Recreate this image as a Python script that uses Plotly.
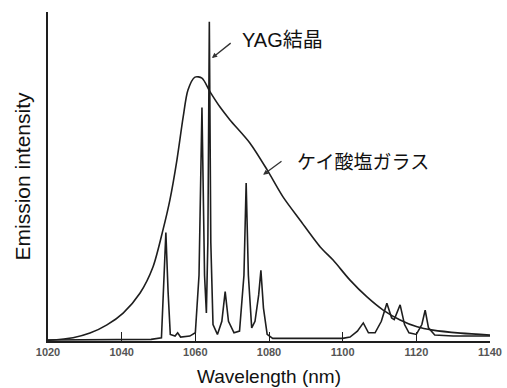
import plotly.graph_objects as go

# Broad emission band of the silicate glass (wavelength nm, relative intensity)
glass_wl = [1020, 1026.8, 1031.4, 1036.0, 1040.4, 1045.0, 1048.5, 1051.2, 1053.1,
            1055.0, 1056.7, 1058.0, 1059.9, 1061.8, 1064.0, 1066.7, 1069.4, 1074.8,
            1079.5, 1083.8, 1088.4, 1093.9, 1097.4, 1102.0, 1106.6, 1111.0, 1115.6,
            1120.2, 1124.5, 1132.0, 1140]
glass_int = [0.2, 1.0, 2.4, 4.9, 8.5, 14.6, 22.5, 33.7, 42.9,
             55.0, 68.1, 76.3, 80.2, 79.9, 75.7, 71.1, 67.2, 60.2,
             52.0, 43.8, 36.8, 28.6, 24.6, 18.5, 13.4, 9.4, 6.4,
             4.3, 3.3, 2.4, 1.8]

# Line spectrum of the YAG crystal
yag_wl = [1020, 1040, 1048, 1050.8, 1051.4, 1052.0, 1052.6, 1053.2, 1054.5, 1055.2,
          1056.0, 1058.5, 1060.0, 1061.0, 1061.8, 1062.5, 1063.0, 1063.4, 1063.8,
          1064.2, 1064.8, 1066.0, 1067.2, 1068.1, 1069.0, 1070.5, 1072.0, 1073.2,
          1073.8, 1074.4, 1075.3, 1076.2, 1077.2, 1077.8, 1078.5, 1079.5, 1081.0,
          1100.0, 1102.0, 1104.0, 1105.6, 1107.0, 1108.8, 1110.5, 1112.0, 1113.3,
          1114.0, 1115.6, 1116.8, 1118.0, 1120.0, 1121.5, 1122.4, 1123.3, 1125.0,
          1130.0, 1140]
yag_int = [0.3, 0.3, 0.5, 1.0, 15, 33, 15, 2.0, 1.5, 2.5,
           1.2, 1.5, 2.5, 20, 71, 20, 8.5, 30, 97,
           30, 5, 2.0, 6, 15, 6, 2.5, 3.0, 20,
           48, 20, 4, 6, 14, 21.5, 10, 2.0, 0.8,
           0.8, 1.2, 3.0, 5.5, 2.5, 2.5, 6.0, 11.5, 7.0,
           6.5, 11, 5.0, 2.5, 2.0, 5.0, 9.4, 4.0, 1.8,
           1.5, 1.5]

tick_vals = [1020, 1040, 1060, 1080, 1100, 1120, 1140]
tick_text = ["1020", "1040", "1060", "1080", "1100", "1120", "1140"]

ink = "#1e1e1e"
latin = "Liberation Sans, Arial, sans-serif"
jp = "Liberation Sans, Noto Sans CJK JP, sans-serif"

fig = go.Figure()
fig.add_trace(go.Scatter(x=glass_wl, y=glass_int, mode="lines",
                         line=dict(color=ink, width=1.6, shape="spline", smoothing=0.8),
                         hoverinfo="skip"))
fig.add_trace(go.Scatter(x=yag_wl, y=yag_int, mode="lines",
                         line=dict(color=ink, width=1.6),
                         hoverinfo="skip"))

# Labels and pointer arrows for the two spectra
fig.add_annotation(x=1072.1, y=91.5, text="YAG結晶", showarrow=False,
                   xanchor="left", yanchor="middle",
                   font=dict(family=jp, size=20, color="#111"))
fig.add_annotation(x=1064.5, y=86.0, ax=1070.0, ay=90.9, axref="x", ayref="y",
                   text="", showarrow=True, arrowhead=2, arrowsize=0.8,
                   arrowwidth=1.3, arrowcolor="#333")
fig.add_annotation(x=1087.1, y=54.4, text="ケイ酸塩ガラス", showarrow=False,
                   xanchor="left", yanchor="middle",
                   font=dict(family=jp, size=19, color="#111"))
fig.add_annotation(x=1078.4, y=50.5, ax=1083.8, ay=55.0, axref="x", ayref="y",
                   text="", showarrow=True, arrowhead=2, arrowsize=0.8,
                   arrowwidth=1.3, arrowcolor="#333")

fig.update_layout(
    width=507, height=388,
    margin=dict(l=48, r=17, t=12, b=47),
    paper_bgcolor="white", plot_bgcolor="white",
    showlegend=False,
    xaxis=dict(range=[1020, 1140], tickvals=tick_vals, ticktext=tick_text,
               automargin=False,
               showgrid=False, zeroline=False, showline=True, linecolor=ink,
               linewidth=1.6, ticks="inside", ticklen=9, tickwidth=1.2,
               tickcolor=ink,
               tickfont=dict(family=latin, size=11, color="#555", weight="bold"),
               title=dict(text="Wavelength (nm)", standoff=13,
                          font=dict(family=latin, size=19, color="#111"))),
    yaxis=dict(range=[0, 100], showgrid=False, zeroline=False, showline=True,
               automargin=False,
               linecolor=ink, linewidth=1.6, showticklabels=False, ticks="",
               title=dict(text="Emission intensity", standoff=10,
                          font=dict(family=latin, size=21, color="#111"))),
)

fig.write_html("out.html")
